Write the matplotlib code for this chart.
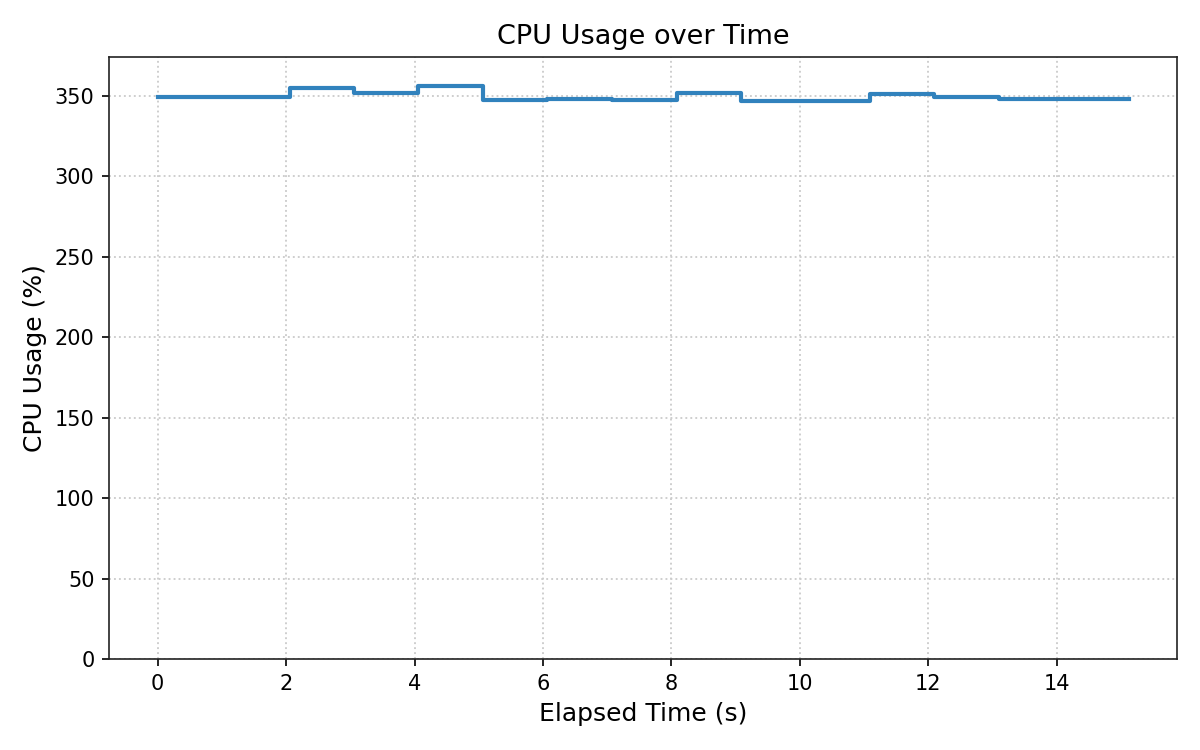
import matplotlib
matplotlib.use('Agg')
import matplotlib.pyplot as plt

# samples (seconds, percent)
elapsed = [0.0, 1.03, 2.06, 3.06, 4.06, 5.06, 6.06, 7.07, 8.08, 9.08,
           10.08, 11.09, 12.09, 13.10, 14.11, 15.12]
cpu = [349.2, 349.2, 355.0, 351.6, 356.2, 347.3, 348.1, 347.3, 351.6, 346.5,
       346.5, 351.0, 349.1, 347.9, 347.9, 347.9]

fig, ax = plt.subplots(figsize=(8, 5), dpi=150)
ax.step(elapsed, cpu, where='post', color='#3182bd', linewidth=2)

ax.set_ylim(0, max(cpu) * 1.05)
ax.set_title('CPU Usage over Time', fontsize=13)
ax.set_xlabel('Elapsed Time (s)', fontsize=12)
ax.set_ylabel('CPU Usage (%)', fontsize=12)
ax.grid(True, linestyle=':', color='#cccccc', linewidth=0.9)
for s in ax.spines.values():
    s.set_color('#222222')

fig.subplots_adjust(left=0.091, right=0.981, top=0.924, bottom=0.121)
fig.savefig('out.png', dpi=150)
